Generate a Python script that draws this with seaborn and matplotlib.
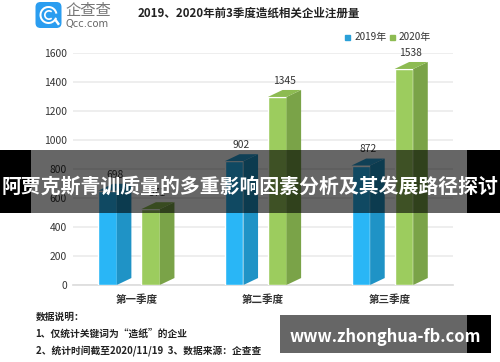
import numpy as np
import pandas as pd
import matplotlib
matplotlib.use('Agg')
import matplotlib.pyplot as plt
from matplotlib.patches import Polygon, Rectangle, FancyBboxPatch, Circle, Wedge
import seaborn as sns

# ====================== Data ======================
quarters = ['第一季度', '第二季度', '第三季度']
series_names = ['2019年', '2020年']
values_2019 = [698, 902, 872]
values_2020 = [571, 1345, 1538]
y_ticks = [0, 200, 400, 600, 800, 1000, 1200, 1400, 1600]

title_text = '2019、2020年前3季度造纸相关企业注册量'
note_lines = ['数据说明\uff1a', '1、仅统计关键词为“造纸”的企业', '2、统计时间截至2020/11/19  3、数据来源\uff1a企查查']
banner_text = '阿贾克斯青训质量的多重影响因素分析及其发展路径探讨'
site_text = 'www.zhonghua-fb.com'

df = pd.DataFrame({
    'quarter': quarters * 2,
    'year': [series_names[0]] * 3 + [series_names[1]] * 3,
    'value': values_2019 + values_2020,
})

# front, side, top colours of the fake 3D bars
blue = ['#29b6f6', '#1f93c6', '#2aa0d8']
green = ['#9ccc5e', '#7aa348', '#8dbb52']
text_color = '#333333'

W, H = 500, 362
sns.set_theme(style='white')
plt.rcParams['font.family'] = ['Noto Sans CJK SC', 'DejaVu Sans']

fig = plt.figure(figsize=(W / 100, H / 100), dpi=100, facecolor='white')
ax = fig.add_axes([73 / W, 1 - 285 / H, 380 / W, 232 / H])

sns.barplot(data=df, x='quarter', y='value', hue='year', order=quarters,
            hue_order=series_names, palette=[blue[0], green[0]], saturation=1,
            width=0.68, gap=0.23, legend=False, ax=ax, zorder=3)

# ====================== Turn flat bars into 3D columns ======================
depth_x = 0.44   # share of bar width used by the side face
depth_y = 48     # rise of the back edge, in data units
for i, bar in enumerate(ax.patches[:6]):
    cols = blue if i < 3 else green
    x0, full_w, top = bar.get_x(), bar.get_width(), bar.get_height()
    front_w = full_w * (1 - depth_x)
    x1, x2 = x0 + front_w, x0 + full_w
    front_top = top - depth_y
    bar.set_width(front_w)
    bar.set_height(front_top)
    ax.add_patch(Polygon([(x1, 0), (x2, depth_y), (x2, top), (x1, front_top)],
                         facecolor=cols[1], edgecolor='none', zorder=3))
    ax.add_patch(Polygon([(x0, front_top), (x1, front_top), (x2, top), (x0 + full_w - front_w, top)],
                         facecolor=cols[2], edgecolor='none', zorder=3))

all_values = values_2019 + values_2020
for i, v in enumerate(all_values):
    x_mid = ax.patches[i].get_x() + ax.patches[i].get_width() * 0.88
    ax.annotate(str(v), (x_mid, v), xytext=(0, 3), textcoords='offset points',
                ha='center', va='bottom', fontsize=7.4, color=text_color, zorder=4)

# ====================== Axes ======================
ax.set_xlim(-0.5, 2.5)
ax.set_ylim(0, 1600)
ax.set_yticks(y_ticks)
ax.set_xlabel('')
ax.set_ylabel('')
ax.set_facecolor('none')
ax.grid(axis='y', color='#e9e9e9', linewidth=1.1, zorder=0)
ax.set_axisbelow(True)
for name in ['top', 'right', 'left']:
    ax.spines[name].set_visible(False)
ax.spines['bottom'].set_color('#dddddd')
ax.spines['bottom'].set_clip_on(False)
ax.tick_params(axis='y', length=0, pad=4.5, labelsize=7.4, labelcolor=text_color)
ax.tick_params(axis='x', length=0, pad=7, labelsize=7.6, labelcolor=text_color)
for lab in ax.get_yticklabels():
    lab.set_fontweight('medium')
for lab in ax.get_xticklabels():
    lab.set_fontweight('bold')
ax.margins(y=0)

# ====================== Overlay in pixel coordinates ======================
ov = fig.add_axes([0, 0, 1, 1], zorder=10)
ov.set_xlim(0, W)
ov.set_ylim(H, 0)
ov.axis('off')

ov.text(248.5, 13, title_text, fontsize=8.3, fontweight='bold', color='#222222', ha='center', va='center')

# legend
ov.add_patch(Rectangle((345, 34.5), 5, 5, color=blue[2]))
ov.text(354.5, 37, series_names[0], fontsize=7.2, fontweight='medium', color=text_color, va='center')
ov.add_patch(Rectangle((390, 34.5), 5, 5, color=green[2]))
ov.text(399, 37, series_names[1], fontsize=7.2, fontweight='medium', color=text_color, va='center')

# logo
ov.add_patch(FancyBboxPatch((38, 4.5), 21, 21, boxstyle='round,pad=2.5,rounding_size=5',
                            facecolor='#2a9df0', edgecolor='none'))
ov.add_patch(Wedge((48.5, 15), 9, 20, 350, width=2, facecolor='white', edgecolor='none'))
ov.add_patch(Wedge((49, 15), 5, 50, 310, width=1.7, facecolor='white', edgecolor='none'))
ov.add_patch(Polygon([(54, 20), (56, 18.5), (60, 24), (58, 25.5)], facecolor='white', edgecolor='none'))
ov.text(65, 10.5, '企查查', fontsize=11, color='#777777', va='center')
ov.text(65, 24.5, 'Qcc.com', fontsize=7.2, color='#666666', va='center', family='DejaVu Sans')

# notes
for y, line in zip([317, 334, 351], note_lines):
    ov.text(35.5, y, line, fontsize=7.0, fontweight='bold', color='#222222', va='center')

# banner over the chart
ov.add_patch(Rectangle((0, 150), 31, 63, facecolor='black', edgecolor='none'))
ov.add_patch(Rectangle((467, 150), 33, 63, facecolor='black', edgecolor='none'))
ov.add_patch(Rectangle((31, 150), 436, 63, facecolor='black', edgecolor='none', alpha=0.6))
ov.text(250, 186, banner_text, fontsize=14.3, fontweight='bold', color='white', ha='center', va='center')

# site stamp
ov.add_patch(Rectangle((280, 315), 187, 38, facecolor='black', edgecolor='none', alpha=0.6))
ov.add_patch(Rectangle((467, 315), 24, 38, facecolor='black', edgecolor='none'))
ov.text(385, 336.5, site_text, fontsize=11.9, fontweight='bold', color='white', ha='center', va='center')

fig.savefig('out.png', dpi=100, facecolor='white')
